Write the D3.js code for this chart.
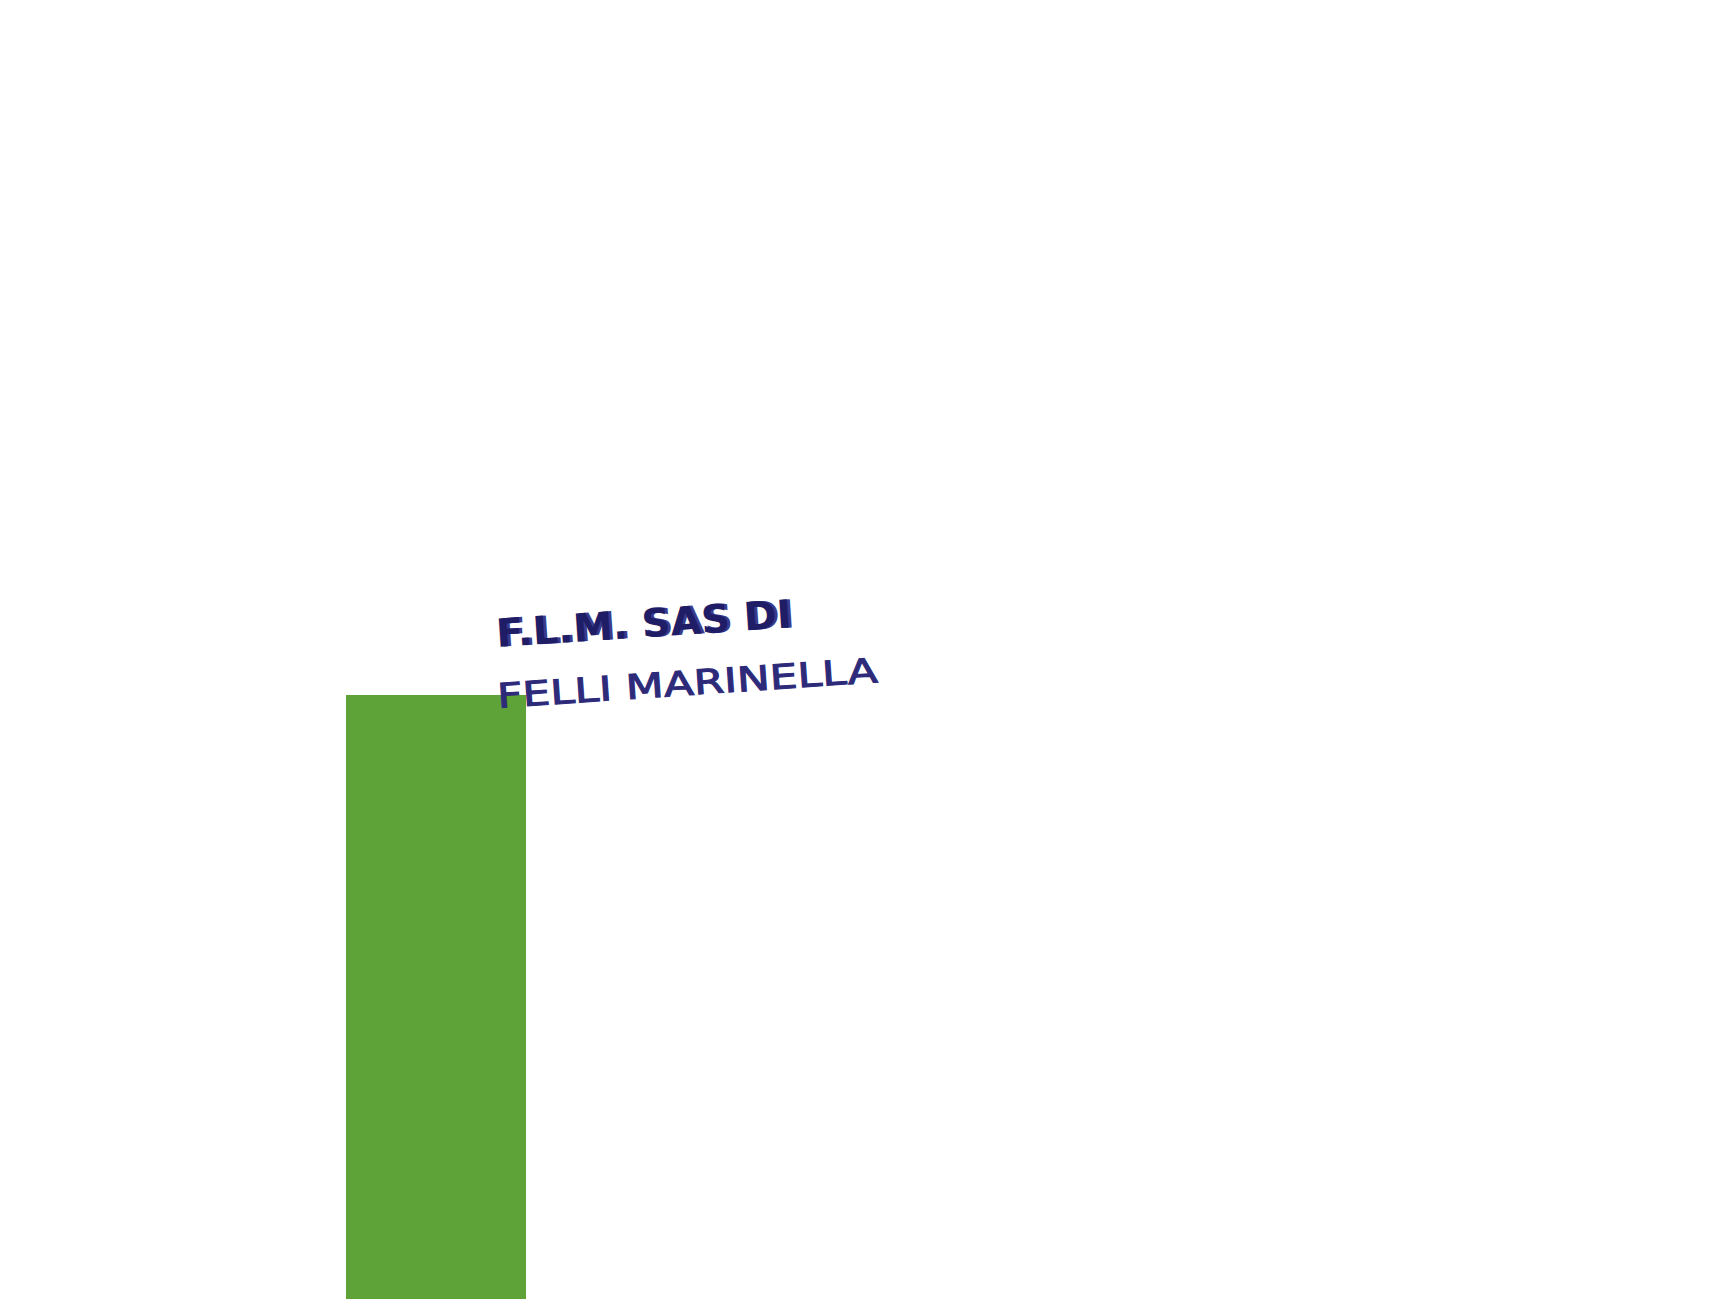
<!DOCTYPE html>
<html><head><meta charset="utf-8">
<script src="https://cdn.jsdelivr.net/npm/d3@7"></script>
<style>html,body{margin:0;padding:0;background:#fff;overflow:hidden}</style>
</head><body>
<script>
const categories = ["F.L.M."];
const values = [100];
const titleLines = ["F.L.M. SAS DI", "FELLI MARINELLA"];

const W = 1734, H = 1299;
const svg = d3.select("body").append("svg").attr("width", W).attr("height", H);

const x = d3.scaleBand().domain(categories).range([346, 526]).padding(0);
const y = d3.scaleLinear().domain([0, 100]).range([H, 695]);

svg.selectAll("rect.bar").data(values).join("rect")
  .attr("class", "bar")
  .attr("x", (d, i) => x(categories[i]))
  .attr("width", x.bandwidth())
  .attr("y", d => y(d))
  .attr("height", d => y(0) - y(d))
  .attr("fill", "#5ea337");

// Title line 1 with shadow/outline effect
const g1 = svg.append("g").attr("transform", "translate(497,647) rotate(-3.8)");
g1.append("text").text(titleLines[0])
  .attr("x", 3).attr("y", 0)
  .attr("font-family", "DejaVu Sans").attr("font-weight", "bold").attr("font-size", 39)
  .attr("textLength", 296).attr("lengthAdjust", "spacingAndGlyphs")
  .attr("fill", "#3b3b8c");
g1.append("text").text(titleLines[0])
  .attr("x", 0).attr("y", 0)
  .attr("font-family", "DejaVu Sans").attr("font-weight", "bold").attr("font-size", 39)
  .attr("textLength", 296).attr("lengthAdjust", "spacingAndGlyphs")
  .attr("fill", "#1f1d66");

const g2 = svg.append("g").attr("transform", "translate(498,708) rotate(-3.9)");
g2.append("text").text(titleLines[1])
  .attr("x", 0).attr("y", 0)
  .attr("font-family", "DejaVu Sans").attr("font-size", 34)
  .attr("textLength", 381).attr("lengthAdjust", "spacingAndGlyphs")
  .attr("fill", "#2e2a7a").attr("stroke", "#2e2a7a").attr("stroke-width", 1);
</script>
</body></html>
